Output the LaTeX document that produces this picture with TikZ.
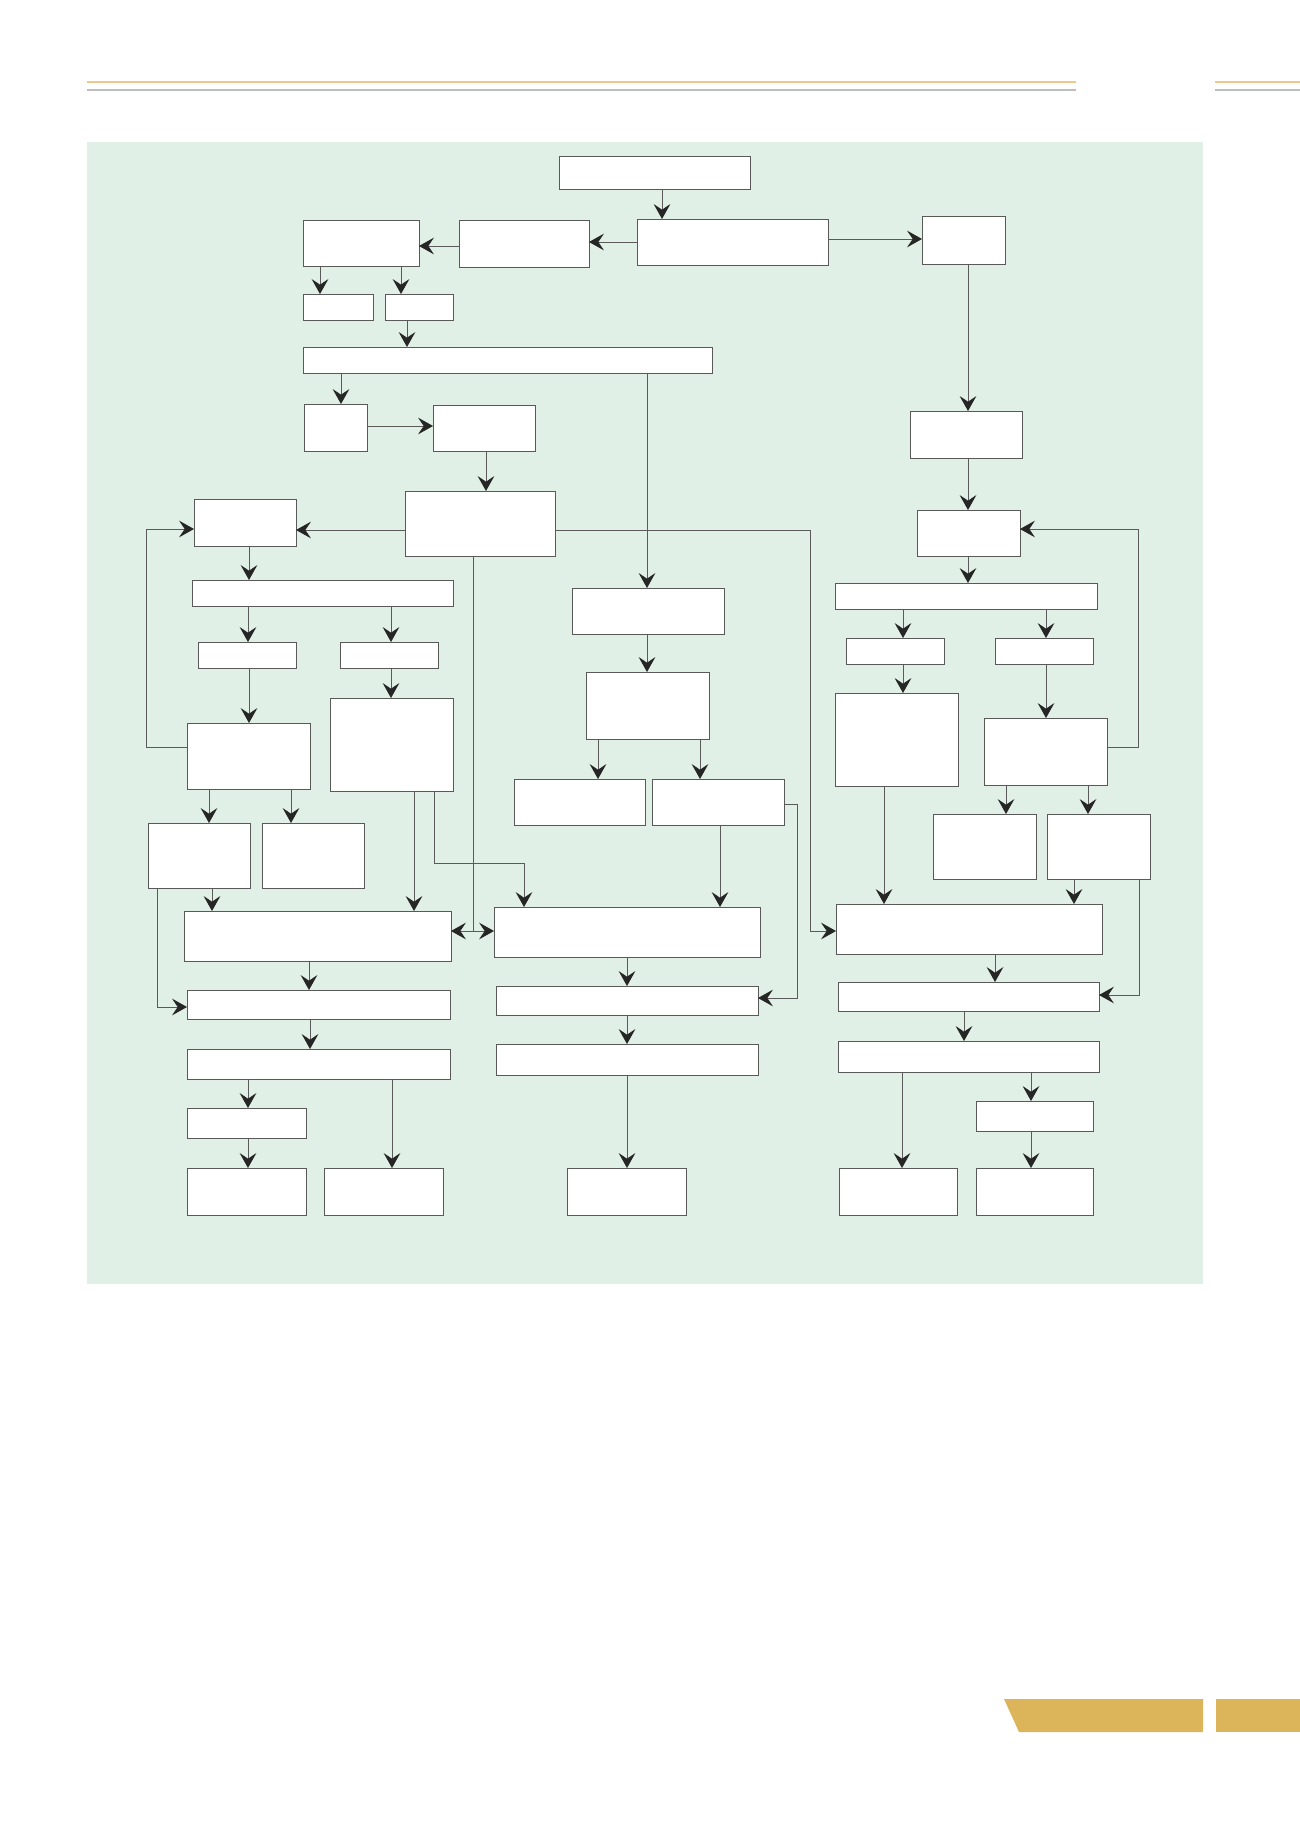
\documentclass[tikz,border=0pt]{standalone}
\usepackage{tikz}
\usetikzlibrary{arrows.meta}
\definecolor{pagegreen}{HTML}{E1F0E6}
\definecolor{headorange}{HTML}{F0C88C}
\definecolor{headgrey}{HTML}{BEBEBE}
\definecolor{footgold}{HTML}{DCB45A}
\definecolor{linegrey}{HTML}{5A5A5A}
% box from its corners (pixel units of the picture)
\newcommand{\flowbox}[5]{%
  \pgfmathsetmacro\boxw{(#4-#2)*0.02}%
  \pgfmathsetmacro\boxh{(#5-#3)*0.02}%
  \node[box, minimum width=\boxw cm, minimum height=\boxh cm] (#1) at ({(#2+#4)/2},{(#3+#5)/2}) {};}

\begin{document}
\begin{tikzpicture}[x=0.02cm, y=-0.02cm,
    box/.style={draw=black!65, fill=white, line width=0.5pt, inner sep=0pt, outer sep=0pt},
    arr/.style={-{Stealth[length=8.5pt, width=9.5pt, inset=3.2pt, color=black!85]}, linegrey, line width=0.55pt}]
    \useasboundingbox (0,0) rectangle (1300,1841);
    % Header rules
    \draw[headorange, line width=0.8pt] (87,82) -- (1076,82) (1215,82) -- (1300,82);
    \draw[headgrey, line width=0.8pt] (87,90) -- (1076,90) (1215,90) -- (1300,90);
    % Panel
    \fill[pagegreen] (87,142) rectangle (1203,1284);
    % Footer tabs
    \fill[footgold] (1004,1699) -- (1203,1699) -- (1203,1732) -- (1019,1732) -- cycle;
    \fill[footgold] (1216,1699) rectangle (1300,1732);
    % Boxes
    \foreach \n/\a/\b/\c/\d in {
      T/559/156/750/189, M/637/219/828/265, L1/459/220/589/267, L2/303/220/419/266,
      R1/922/216/1005/264, S1/303/294/373/320, S2/385/294/453/320, W/303/347/712/373,
      A/304/404/367/451, B/433/405/535/451, R2/910/411/1022/458, C/405/491/555/556,
      D/194/499/296/546, E/192/580/453/606, F1/198/642/296/668, F2/340/642/438/668,
      G1/187/723/310/789, G2/330/698/453/791, H1/148/823/250/888, H2/262/823/364/888,
      P/572/588/724/634, Q/586/672/709/739, Q1/514/779/645/825, Q2/652/779/784/825,
      J/184/911/451/961, K/494/907/760/957, R3/917/510/1020/556, R4/835/583/1097/609,
      R5a/846/638/944/664, R5b/995/638/1093/664, R6a/835/693/958/786, R6b/984/718/1107/785,
      R7a/933/814/1036/879, R7b/1047/814/1150/879, X/836/904/1102/954,
      J2/187/990/450/1019, J3/187/1049/450/1079, J4/187/1108/306/1138,
      B1/187/1168/306/1215, B2/324/1168/443/1215,
      K2/496/986/758/1015, K3/496/1044/758/1075, B3/567/1168/686/1215,
      X2/838/982/1099/1011, X3/838/1041/1099/1072, Y/976/1101/1093/1131,
      B4/839/1168/957/1215, B5/976/1168/1093/1215}
      {\flowbox{\n}{\a}{\b}{\c}{\d}}
    % Straight downward links
    \foreach \a/\b/\x in {T/M/662, L2/S1/320, L2/S2/401, S2/W/407, W/A/341, B/C/486,
      W/P/647, R1/R2/968, R2/R3/968, D/E/249, E/F1/248, E/F2/391, F1/G1/249,
      F2/G2/391, G1/H1/209, G1/H2/291, G2/J/414, H1/J/212, J/J2/309, J2/J3/310,
      J3/J4/248, J4/B1/248, J3/B2/392, P/Q/647, Q/Q1/598, Q/Q2/700, Q2/K/720,
      K/K2/627, K2/K3/627, K3/B3/627, R3/R4/968, R4/R5a/903, R4/R5b/1046,
      R5a/R6a/903, R5b/R6b/1046, R6b/R7a/1006, R6b/R7b/1088, R6a/X/884,
      R7b/X/1074, X/X2/995, X2/X3/964, X3/Y/1031, Y/B5/1031, X3/B4/902}
      \draw[arr] (\a.south -| \x,0) -- (\b.north -| \x,0);
    % Sideways links
    \foreach \a/\b/\y in {M/L1/242, L1/L2/246, C/D/530}
      \draw[arr] (\a.west |- 0,\y) -- (\b.east |- 0,\y);
    \foreach \a/\b/\y in {M/R1/239, A/B/426}
      \draw[arr] (\a.east |- 0,\y) -- (\b.west |- 0,\y);
    % Feedback loops
    \draw[arr] (G1.west |- 0,747) -- (146,747) |- (D.west |- 0,529);
    \draw[arr] (R6b.east |- 0,747) -- (1138,747) |- (R3.east |- 0,529);
    \draw[arr] (H1.south -| 157,0) |- (J2.west |- 0,1007);
    \draw[arr] (Q2.east |- 0,804) -| (797,998) -- (K2.east |- 0,998);
    \draw[arr] (R7b.south -| 1139,0) |- (X2.east |- 0,995);
    % Branches out of C
    \coordinate (split) at (473,931);
    \draw[arr] (C.south -| split) -- (split) -- (J.east |- split);
    \draw[arr] (split) -- (K.west |- split);
    \draw[arr] (C.east |- 0,530) -| (810,931) -- (X.west |- 0,931);
    \draw[arr] (G2.south -| 434,0) |- (524,863) -- (K.north -| 524,0);
\end{tikzpicture}
\end{document}
